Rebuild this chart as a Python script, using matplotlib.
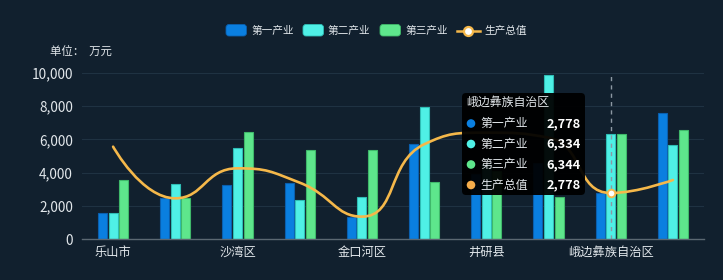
import numpy as np
import matplotlib
matplotlib.use("Agg")
import matplotlib.pyplot as plt
from matplotlib.path import Path
from matplotlib.patches import PathPatch, FancyBboxPatch, Circle
from matplotlib.lines import Line2D
from matplotlib.transforms import IdentityTransform
from matplotlib.ticker import FuncFormatter, FixedLocator

plt.rcParams['font.family'] = ['Noto Sans CJK SC', 'DejaVu Sans']

# ---------------- data ----------------
categories = ['乐山市', '市中区', '沙湾区', '五通桥区', '金口河区',
              '犍为县', '井研县', '夹江县', '峨边彝族自治区', '马边彝族自治县']
series_names = ['第一产业', '第二产业', '第三产业', '生产总值']
first = [1600, 2460, 3260, 3360, 1360, 5700, 3900, 4600, 2778, 7560]
second = [1560, 3340, 5460, 2380, 2560, 7960, 4500, 9860, 6334, 5640]
third = [3560, 2460, 6460, 5360, 5360, 3460, 4100, 2560, 6344, 6560]
total = [5560, 2460, 4260, 3400, 1360, 5700, 6400, 6100, 2778, 3560]
y_ticks = [0, 2000, 4000, 6000, 8000, 10000]
unit_label = '单位：  万元'
hover_index = 8

# ---------------- style ----------------
BG = '#11202e'
C_BLUE = '#0a7fe0'
C_CYAN = '#4ff0e6'
C_GREEN = '#5ee68c'
C_LINE = '#f5b84a'
E_BLUE = '#0a5fae'
E_CYAN = '#2fbdb5'
E_GREEN = '#3fb86a'
TXT = '#e2e7eb'

W, H = 723, 280
fig = plt.figure(figsize=(W / 100, H / 100), dpi=100, facecolor=BG)
ax = fig.add_axes([82 / W, (H - 239.3) / H, (704 - 82) / W, (239.3 - 72.7) / H])
ax.set_facecolor(BG)
ax.set_xlim(-0.5, len(categories) - 0.5)
ax.set_ylim(0, 10000)

x = np.arange(len(categories))
bw = 0.145
off = 0.17
ax.bar(x - off, first, bw, color=C_BLUE, edgecolor=E_BLUE, linewidth=0.8, zorder=3)
ax.bar(x, second, bw, color=C_CYAN, edgecolor=E_CYAN, linewidth=0.8, zorder=3)
ax.bar(x + off, third, bw, color=C_GREEN, edgecolor=E_GREEN, linewidth=0.8, zorder=3)

# axes styling
for s in ['top', 'right', 'left']:
    ax.spines[s].set_visible(False)
ax.spines['bottom'].set_color('#5b6872')
ax.spines['bottom'].set_linewidth(1.0)
ax.spines['bottom'].set_zorder(4)
ax.yaxis.set_major_locator(FixedLocator(y_ticks))
ax.yaxis.set_major_formatter(FuncFormatter(lambda v, p: f'{int(v):,}'))
ax.tick_params(axis='y', length=0, pad=6.5, labelsize=9.8, labelcolor=TXT)
ax.grid(axis='y', color='#1f3242', linewidth=0.8, zorder=0)
ax.set_xticks(x)
ax.set_xticklabels([c if i % 2 == 0 else '' for i, c in enumerate(categories)])
ax.tick_params(axis='x', length=0, pad=5, labelsize=8.8, labelcolor=TXT)

# hover dashed line
ax.axvline(x[hover_index], color='#8c98a3', linestyle=(0, (3, 3)), linewidth=1.0, zorder=4)

# ---------------- smooth line (echarts-like constrained bezier) ----------------
fig.canvas.draw()
pts = ax.transData.transform(np.column_stack([x, total]))
px, py = pts[:, 0], pts[:, 1]
n = len(px)
smooth = 0.5
verts = [(px[0], py[0])]
codes = [Path.MOVETO]
cpx0, cpy0 = px[0], py[0]
for k in range(1, n):
    xk, yk = px[k], py[k]
    prevX, prevY = px[k - 1], py[k - 1]
    if k == n - 1:
        cpx1, cpy1 = xk, yk
        ncx, ncy = xk, yk
    else:
        nextX, nextY = px[k + 1], py[k + 1]
        vx, vy = nextX - prevX, nextY - prevY
        dx0, dy0 = xk - prevX, yk - prevY
        dx1, dy1 = nextX - xk, nextY - yk
        lp = np.hypot(dx0, dy0)
        ln = np.hypot(dx1, dy1)
        r = ln / (ln + lp)
        ncx = xk + vx * smooth * r
        ncy = yk + vy * smooth * r
        ncx = min(ncx, max(nextX, xk)); ncy = min(ncy, max(nextY, yk))
        ncx = max(ncx, min(nextX, xk)); ncy = max(ncy, min(nextY, yk))
        vx, vy = ncx - xk, ncy - yk
        cpx1 = xk - vx * lp / ln
        cpy1 = yk - vy * lp / ln
        cpx1 = min(cpx1, max(prevX, xk)); cpy1 = min(cpy1, max(prevY, yk))
        cpx1 = max(cpx1, min(prevX, xk)); cpy1 = max(cpy1, min(prevY, yk))
        vx, vy = xk - cpx1, yk - cpy1
        ncx = xk + vx * ln / lp
        ncy = yk + vy * ln / lp
    verts += [(cpx0, cpy0), (cpx1, cpy1), (xk, yk)]
    codes += [Path.CURVE4] * 3
    cpx0, cpy0 = ncx, ncy
verts_data = ax.transData.inverted().transform(np.array(verts))
ax.add_patch(PathPatch(Path(verts_data, codes), facecolor='none', edgecolor=C_LINE,
                       linewidth=1.9, zorder=5, capstyle='round'))
ax.plot([x[hover_index]], [total[hover_index]], marker='o', markersize=5.5,
        markerfacecolor='white', markeredgecolor=C_LINE, markeredgewidth=1.4,
        linestyle='none', zorder=6)

T = IdentityTransform()


def Y(v):
    return H - v


# ---------------- legend ----------------
leg_items = [(226, C_BLUE, E_BLUE, 252), (303, C_CYAN, E_CYAN, 328), (380, C_GREEN, E_GREEN, 405.5)]
for (bx, fc, ec, tx), name in zip(leg_items, series_names[:3]):
    fig.patches.append(FancyBboxPatch((bx, Y(36)), 20.5, 11.5,
                                      boxstyle='round,pad=0,rounding_size=3',
                                      facecolor=fc, edgecolor=ec, linewidth=0.6,
                                      transform=T, figure=fig))
    fig.text(tx, Y(30.5), name, transform=T, fontsize=7.7, color=TXT, va='center', ha='left')
fig.lines.append(Line2D([457, 479.5], [Y(30.5), Y(30.5)], color=C_LINE, linewidth=1.8,
                        transform=T, figure=fig))
fig.lines.append(Line2D([468.3], [Y(30.5)], marker='o', markersize=6.5,
                        markerfacecolor='white', markeredgecolor=C_LINE, markeredgewidth=1.6,
                        transform=T, figure=fig))
fig.text(484.3, Y(30.5), series_names[3], transform=T, fontsize=7.7, color=TXT,
         va='center', ha='left')

# unit label
fig.text(50, Y(52), unit_label, transform=T, fontsize=8.2, color=TXT, va='center', ha='left')

# ---------------- tooltip ----------------
fig.patches.append(FancyBboxPatch((462, Y(195)), 123, 102,
                                  boxstyle='round,pad=0,rounding_size=4',
                                  facecolor='#000000', edgecolor='#000000', alpha=0.95,
                                  linewidth=0, transform=T, figure=fig, zorder=10))
fig.text(466, Y(102), categories[hover_index], transform=T, fontsize=8.6, color=TXT,
         va='center', ha='left', zorder=11)
tip_vals = [first[hover_index], second[hover_index], third[hover_index], total[hover_index]]
tip_cols = [C_BLUE, C_CYAN, C_GREEN, '#f5ac4a']
row_y = [123.5, 144, 164.5, 185]
for ry, nm, v, c in zip(row_y, series_names, tip_vals, tip_cols):
    fig.patches.append(Circle((471, Y(ry)), 4.3, facecolor=c, edgecolor='none',
                              transform=T, figure=fig, zorder=11))
    fig.text(480, Y(ry), nm, transform=T, fontsize=8.6, color=TXT, va='center',
             ha='left', zorder=11)
    fig.text(580.5, Y(ry), f'{v:,}', transform=T, fontsize=9.2, color='white',
             fontweight='bold', va='center', ha='right', zorder=11)

fig.savefig('out.png', dpi=100, facecolor=BG)
